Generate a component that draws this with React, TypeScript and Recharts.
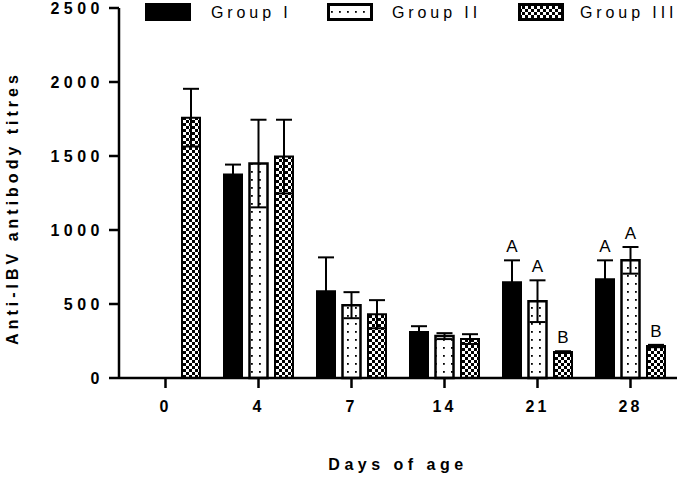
import React from "react";
import { BarChart, Bar, XAxis, YAxis, ErrorBar, LabelList } from "recharts";

const days = ["0", "4", "7", "14", "21", "28"];
const groupI = [null, 1375, 586, 310, 647, 667];
const groupII = [null, 1449, 492, 283, 519, 795];
const groupIII = [1759, 1496, 431, 263, 175, 216];
const errI = [null, 67, 229, 40, 148, 128];
const errII = [null, 296, 88, 20, 141, 90];
const errIII = [195, 249, 95, 33, 6, 8];
const letterI = ["", "", "", "", "A", "A"];
const letterII = ["", "", "", "", "A", "A"];
const letterIII = ["", "", "", "", "B", "B"];
const yTicks = [0, 500, 1000, 1500, 2000, 2500];
const groupNames = ["Group I", "Group II", "Group III"];

const data = days.map((d, i) => ({
  day: d,
  g1: groupI[i],
  g2: groupII[i],
  g3: groupIII[i],
  e1: errI[i],
  e2: errII[i],
  e3: errIII[i],
  l1: letterI[i],
  l2: letterII[i],
  l3: letterIII[i],
}));

const FONT = "'Liberation Sans', Arial, sans-serif";

function Patterns({ prefix }: { prefix: string }) {
  return (
    <defs>
      <pattern id={`${prefix}dots`} width={8} height={8} patternUnits="userSpaceOnUse">
        <rect width={8} height={8} fill="#fff" />
        <rect x={3} y={3} width={1.8} height={1.8} fill="#000" />
      </pattern>
      <pattern id={`${prefix}checker`} width={6} height={6} patternUnits="userSpaceOnUse">
        <rect width={6} height={6} fill="#fff" />
        <rect x={0} y={0} width={3} height={3} fill="#000" />
        <rect x={3} y={3} width={3} height={3} fill="#000" />
      </pattern>
    </defs>
  );
}

// label value is "letter|mean|error" so the text can sit above the whisker
const letterKey = (l: string, g: string, e: string) => (d: any) =>
  d[l] ? `${d[l]}|${d[g]}|${d[e]}` : "";

const letterContent = (props: any) => {
  const { value } = props;
  if (!value) return null;
  const [txt, mean, err] = String(value).split("|");
  const vb = props.viewBox || props;
  const top = vb.y - (vb.height / Number(mean)) * Number(err);
  return (
    <text x={vb.x + vb.width / 2} y={top - 8} textAnchor="middle" fontSize={17} fontFamily={FONT} fill="#000">
      {txt}
    </text>
  );
};

const YLabel = (props: any) => {
  const vb = props.viewBox;
  const cx = vb.x + 12;
  const cy = vb.y + vb.height / 2 + 15;
  return (
    <text x={cx} y={cy} transform={`rotate(-90 ${cx} ${cy})`} textAnchor="middle" dominantBaseline="central"
      fontSize={16} fontWeight="bold" letterSpacing={4} fontFamily={FONT} fill="#000">
      Anti-IBV antibody titres
    </text>
  );
};

const XLabel = (props: any) => {
  const vb = props.viewBox;
  return (
    <text x={vb.x + vb.width / 2} y={vb.y + 92} textAnchor="middle" fontSize={16} fontWeight="bold"
      letterSpacing={4.5} fontFamily={FONT} fill="#000">
      Days of age
    </text>
  );
};

function LegendOverlay() {
  const fills = ["#000", "url(#lgdots)", "url(#lgchecker)"];
  const rectX = [145, 327, 518];
  const textX = [211, 392, 580];
  return (
    <svg width={680} height={30} style={{ position: "absolute", left: 0, top: 0 }}>
      <Patterns prefix="lg" />
      {groupNames.map((g, i) => (
        <g key={g}>
          <rect x={rectX[i] + 1.5} y={4.5} width={43} height={15} fill={fills[i]} stroke="#000" strokeWidth={3} />
          <text x={textX[i]} y={18} fontSize={16} letterSpacing={3.9} fontFamily={FONT} fill="#000">
            {g}
          </text>
        </g>
      ))}
    </svg>
  );
}

export default function App() {
  return (
    <div style={{ position: "absolute", left: 0, top: 0, width: 680, height: 479, background: "#fff" }}>
      <BarChart
        width={680}
        height={479}
        data={data}
        margin={{ top: 8, right: 3, left: 0, bottom: 0 }}
        barSize={18}
        barGap={7.5}
      >
        <Patterns prefix="ch" />
        <XAxis
          dataKey="day"
          height={101}
          axisLine={{ stroke: "#000", strokeWidth: 2.5 }}
          tickLine={{ stroke: "#000", strokeWidth: 2.5 }}
          tickSize={10}
          tickMargin={13}
          tick={{ fill: "#000", fontSize: 16, fontWeight: "bold", fontFamily: FONT, letterSpacing: 3 }}
          label={<XLabel />}
        />
        <YAxis
          width={119}
          domain={[0, 2500]}
          ticks={yTicks}
          interval={0}
          axisLine={{ stroke: "#000", strokeWidth: 2.5 }}
          tickLine={{ stroke: "#000", strokeWidth: 2.5 }}
          tickSize={10}
          tickMargin={5}
          tick={{ fill: "#000", fontSize: 16, fontWeight: "bold", fontFamily: FONT, letterSpacing: 4.5 }}
          label={<YLabel />}
        />
        <Bar dataKey="g1" fill="#000" stroke="#000" strokeWidth={2} isAnimationActive={false}>
          <ErrorBar dataKey="e1" width={8} strokeWidth={2} stroke="#000" direction="y" />
          <LabelList dataKey={letterKey("l1", "g1", "e1")} content={letterContent} />
        </Bar>
        <Bar dataKey="g2" fill="url(#chdots)" stroke="#000" strokeWidth={2.5} isAnimationActive={false}>
          <ErrorBar dataKey="e2" width={8} strokeWidth={2} stroke="#000" direction="y" />
          <LabelList dataKey={letterKey("l2", "g2", "e2")} content={letterContent} />
        </Bar>
        <Bar dataKey="g3" fill="url(#chchecker)" stroke="#000" strokeWidth={2} isAnimationActive={false}>
          <ErrorBar dataKey="e3" width={8} strokeWidth={2} stroke="#000" direction="y" />
          <LabelList dataKey={letterKey("l3", "g3", "e3")} content={letterContent} />
        </Bar>
      </BarChart>
      <LegendOverlay />
    </div>
  );
}
